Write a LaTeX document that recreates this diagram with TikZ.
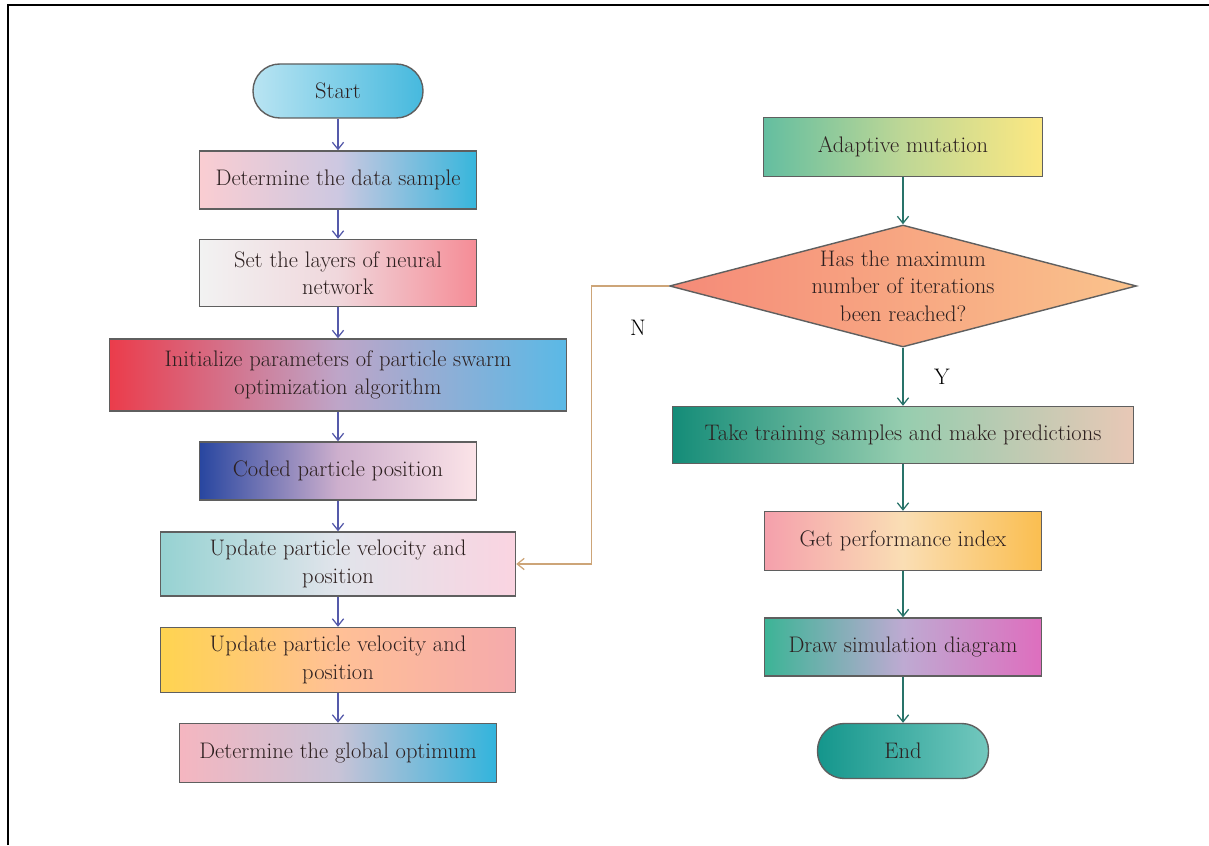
\documentclass[tikz,border=0pt]{standalone}
\usepackage{tikz}
\usetikzlibrary{arrows.meta,shapes.geometric}
\definecolor{ink}{RGB}{45,32,32}
\definecolor{edgegray}{RGB}{95,95,95}
\definecolor{leftarr}{RGB}{85,90,170}
\definecolor{rightarr}{RGB}{40,115,105}
\definecolor{backarr}{RGB}{205,165,120}

\begin{document}
\begin{tikzpicture}[
      box/.style={draw=edgegray, line width=1pt, align=center, text=ink,
                  inner sep=2pt, font=\fontsize{16}{19.5}\selectfont},
      term/.style={box, rounded corners=0.67cm},
      dec/.style={draw=edgegray, line width=1pt, diamond, inner sep=0pt,
                  minimum width=11.675cm, minimum height=3.05cm},
      dectext/.style={align=center, text=ink, font=\fontsize{16}{19.5}\selectfont},
      larr/.style={-{Straight Barb[length=5pt,width=8pt]}, line width=0.9pt, leftarr},
      rarr/.style={-{Straight Barb[length=5pt,width=8pt]}, line width=0.9pt, rightarr},
      back/.style={-{Straight Barb[length=5pt,width=8pt]}, line width=0.9pt, backarr}
    ]
    \useasboundingbox (0,0) rectangle (30.225,21.125);
    \draw[line width=1.4pt] (0.19,0) -- (0.19,21.0) -- (30.225,21.0);

    % left column
    \node[term, minimum width=4.25cm, minimum height=1.35cm,
          left color={rgb,255:red,185;green,228;blue,242}, right color={rgb,255:red,70;green,185;blue,222}]
          (start) at (8.45,18.85) {Start};
    \node[box, minimum width=6.925cm, minimum height=1.45cm,
          left color={rgb,255:red,250;green,205;blue,210}, right color={rgb,255:red,55;green,182;blue,220},
          middle color={rgb,255:red,205;green,200;blue,225}]
          (sample) at (8.45,16.625) {Determine the data sample};
    \node[box, minimum width=6.925cm, minimum height=1.675cm,
          left color={rgb,255:red,242;green,242;blue,242}, right color={rgb,255:red,245;green,140;blue,150},
          middle color={rgb,255:red,240;green,215;blue,220}]
          (layers) at (8.45,14.3) {Set the layers of neural\\network};
    \node[box, minimum width=11.425cm, minimum height=1.8cm,
          left color={rgb,255:red,235;green,60;blue,75}, right color={rgb,255:red,90;green,185;blue,230},
          middle color={rgb,255:red,190;green,165;blue,200}]
          (init) at (8.45,11.75) {Initialize parameters of particle swarm\\optimization algorithm};
    \node[box, minimum width=6.925cm, minimum height=1.45cm,
          left color={rgb,255:red,40;green,70;blue,160}, right color={rgb,255:red,252;green,228;blue,232},
          middle color={rgb,255:red,205;green,175;blue,205}]
          (coded) at (8.45,9.35) {Coded particle position};
    \node[box, minimum width=8.875cm, minimum height=1.6cm,
          left color={rgb,255:red,150;green,210;blue,210}, right color={rgb,255:red,250;green,212;blue,225},
          middle color={rgb,255:red,225;green,228;blue,235}]
          (upd1) at (8.45,7.025) {Update particle velocity and\\position};
    \node[box, minimum width=8.875cm, minimum height=1.625cm,
          left color={rgb,255:red,255;green,212;blue,80}, right color={rgb,255:red,245;green,170;blue,172},
          middle color={rgb,255:red,255;green,192;blue,150}]
          (upd2) at (8.45,4.625) {Update particle velocity and\\position};
    \node[box, minimum width=7.925cm, minimum height=1.475cm,
          left color={rgb,255:red,245;green,182;blue,192}, right color={rgb,255:red,50;green,180;blue,220},
          middle color={rgb,255:red,200;green,195;blue,215}]
          (best) at (8.45,2.3) {Determine the global optimum};

    % right column
    \node[box, minimum width=6.975cm, minimum height=1.475cm,
          left color={rgb,255:red,100;green,190;blue,160}, right color={rgb,255:red,252;green,232;blue,130},
          middle color={rgb,255:red,190;green,215;blue,150}]
          (mut) at (22.575,17.45) {Adaptive mutation};
    \node[dec, left color={rgb,255:red,245;green,138;blue,120}, right color={rgb,255:red,250;green,195;blue,140}]
          (check) at (22.575,13.975) {};
    \node[dectext] (checktxt) at (check.center) {Has the maximum\\number of iterations\\been reached?};
    \node[box, minimum width=11.525cm, minimum height=1.425cm,
          left color={rgb,255:red,20;green,140;blue,120}, right color={rgb,255:red,232;green,200;blue,182},
          middle color={rgb,255:red,150;green,205;blue,175}]
          (train) at (22.575,10.25) {Take training samples and make predictions};
    \node[box, minimum width=6.925cm, minimum height=1.475cm,
          left color={rgb,255:red,245;green,160;blue,172}, right color={rgb,255:red,250;green,190;blue,80},
          middle color={rgb,255:red,250;green,222;blue,180}]
          (perf) at (22.575,7.6) {Get performance index};
    \node[box, minimum width=6.925cm, minimum height=1.45cm,
          left color={rgb,255:red,60;green,180;blue,150}, right color={rgb,255:red,222;green,110;blue,190},
          middle color={rgb,255:red,190;green,170;blue,210}]
          (sim) at (22.575,4.95) {Draw simulation diagram};
    \node[term, minimum width=4.275cm, minimum height=1.375cm,
          left color={rgb,255:red,20;green,150;blue,140}, right color={rgb,255:red,115;green,200;blue,190}]
          (fin) at (22.575,2.35) {End};

    \node[text=black, font=\fontsize{16}{19.5}\selectfont] (lblN) at (15.95,12.925) {N};
    \node[text=black, font=\fontsize{16}{19.5}\selectfont] (lblY) at (23.55,11.7) {Y};

    \draw[larr] (start) -- (sample);
    \draw[larr] (sample) -- (layers);
    \draw[larr] (layers) -- (init);
    \draw[larr] (init) -- (coded);
    \draw[larr] (coded) -- (upd1);
    \draw[larr] (upd1) -- (upd2);
    \draw[larr] (upd2) -- (best);

    \draw[rarr] (mut) -- (check);
    \draw[rarr] (check) -- (train);
    \draw[rarr] (train) -- (perf);
    \draw[rarr] (perf) -- (sim);
    \draw[rarr] (sim) -- (fin);
    \draw[back] (check.west) -- ++(-1.94,0) |- (upd1.east);
  \end{tikzpicture}
\end{document}
